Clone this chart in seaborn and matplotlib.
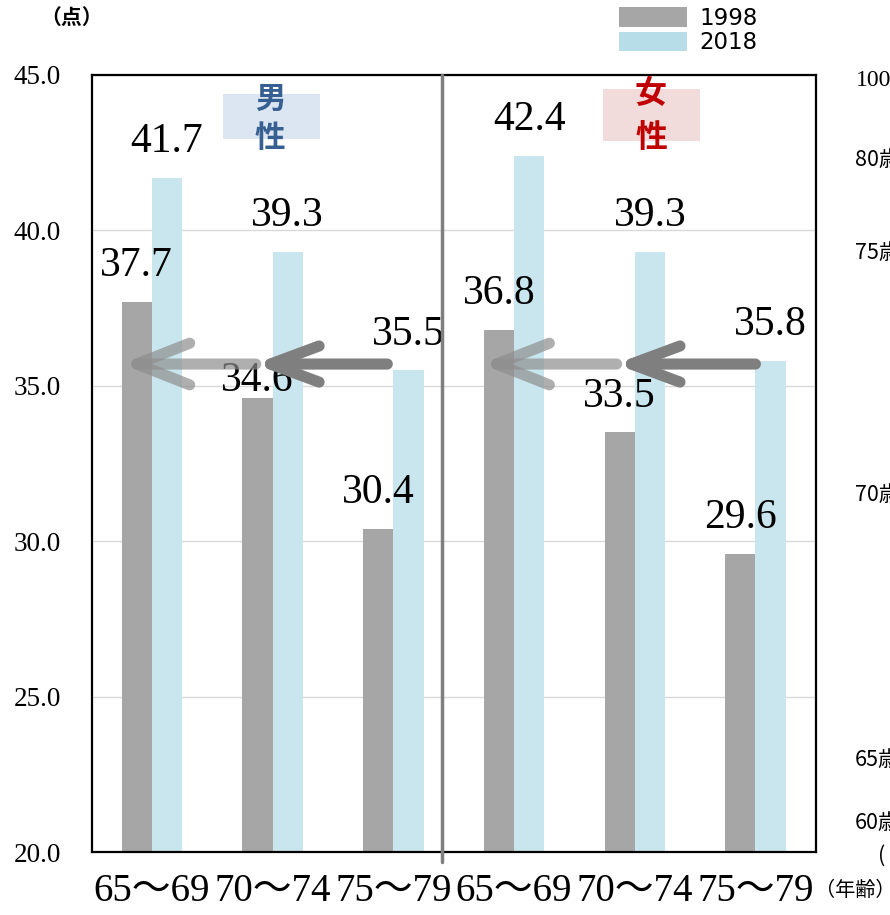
import matplotlib
matplotlib.use("Agg")
import matplotlib.pyplot as plt
import seaborn as sns
import pandas as pd
from matplotlib.patches import Rectangle, ArrowStyle

# data
ages = ["65〜69", "70〜74", "75〜79"]
sexes = ["男性", "女性"]
years = ["1998", "2018"]
score_1998 = [37.7, 34.6, 30.4, 36.8, 33.5, 29.6]
score_2018 = [41.7, 39.3, 35.5, 42.4, 39.3, 35.8]
yticks = [20, 25, 30, 35, 40, 45]

groups = [s + a for s in sexes for a in ages]
rows = []
for g, v1, v2 in zip(groups, score_1998, score_2018):
    rows.append({"group": g, "year": years[0], "score": v1})
    rows.append({"group": g, "year": years[1], "score": v2})
df = pd.DataFrame(rows)

sns.set_theme(style="white")
plt.rcParams["font.family"] = ["Liberation Serif", "Noto Sans CJK JP"]
plt.rcParams["text.color"] = "black"
plt.rcParams["xtick.color"] = "black"
plt.rcParams["ytick.color"] = "black"
plt.rcParams["xtick.labelcolor"] = "black"
plt.rcParams["ytick.labelcolor"] = "black"
SANS = ["DejaVu Sans", "Noto Sans CJK JP"]
CJK = ["Noto Sans CJK JP", "DejaVu Sans"]

W, H = 890, 915
fig = plt.figure(figsize=(W / 100, H / 100), dpi=100)
ax = fig.add_axes([91.6 / W, 1 - 852 / H, 724.2 / W, 777 / H])


def px(x, y):
    return (x / W, 1 - y / H)


sns.barplot(data=df, x="group", y="score", hue="year", order=groups,
            palette={"1998": "#A6A6A6", "2018": "#C9E6EE"},
            width=0.5, saturation=1, edgecolor="none", linewidth=0, ax=ax)

ax.set_xlim(-0.5, 5.5)
ax.set_ylim(20, 45)
ax.set_yticks(yticks)
ax.set_yticklabels([f"{v:.1f}" for v in yticks], fontsize=19.5)
ax.set_xticks(range(len(groups)))
ax.set_xticklabels(ages * 2, fontsize=28)
ax.tick_params(axis="y", length=0, pad=22, labelcolor="black")
ax.tick_params(axis="x", length=0, pad=15, labelcolor="black")
ax.set_xlabel("")
ax.set_ylabel("")
ax.yaxis.grid(True, color="#D9D9D9", lw=1)
ax.set_axisbelow(True)
for sp in ax.spines.values():
    sp.set_visible(True)
    sp.set_color("black")
    sp.set_linewidth(1.6)

# value labels
for cont in ax.containers:
    txts = ax.bar_label(cont, fmt="%.1f", padding=12, fontsize=30, color="black")
    for t in txts:
        if t.get_text() == "34.6":
            t.xyann = (0, -1)

# divider between men and women
ax.axvline(2.4, ymin=-0.013, ymax=1, color="#7F7F7F", lw=2.5, clip_on=False, zorder=4)

# arrows
def arrow(x0, x1, y, color, alpha, hl, hw):
    ax.annotate("", xy=(x1, y), xytext=(x0, y),
                arrowprops=dict(arrowstyle=ArrowStyle("->", head_length=hl, head_width=hw),
                                mutation_scale=10, lw=8, color=color, alpha=alpha,
                                capstyle="round", joinstyle="round",
                                shrinkA=0, shrinkB=0), zorder=5)

arrow(0.86, -0.25, 35.7, "#8E8E8E", 0.7, 3.8, 1.5)
arrow(1.95, 0.85, 35.7, "#7F7F7F", 1.0, 3.5, 1.3)
arrow(3.85, 2.73, 35.7, "#8E8E8E", 0.7, 3.8, 1.5)
arrow(5.00, 3.84, 35.7, "#7F7F7F", 1.0, 3.5, 1.3)

# sex labels
ax.add_patch(Rectangle(px(223, 139), 97 / W, 45 / H, transform=fig.transFigure,
                       facecolor="#DCE6F2", edgecolor="none", zorder=3))
ax.add_patch(Rectangle(px(603, 141), 97 / W, 52 / H, transform=fig.transFigure,
                       facecolor="#F2DCDB", edgecolor="none", zorder=3))
fig.text(*px(270, 99), "男", ha="center", va="center", fontsize=22, fontweight="bold",
         color="#376092", family=CJK, zorder=6)
fig.text(*px(270, 138), "性", ha="center", va="center", fontsize=22, fontweight="bold",
         color="#376092", family=CJK, zorder=6)
fig.text(*px(651, 94), "女", ha="center", va="center", fontsize=23, fontweight="bold",
         color="#C00000", family=CJK, zorder=6)
fig.text(*px(651, 138), "性", ha="center", va="center", fontsize=23, fontweight="bold",
         color="#C00000", family=CJK, zorder=6)

# unit labels
fig.text(*px(72, 17), "（点）", ha="center", va="center", fontsize=15, fontweight="bold",
         family=CJK)
fig.text(*px(815, 891), "（年齢）", ha="left", va="center", fontsize=14.5, family=CJK)

# cut-off labels on the right edge
fig.text(*px(856, 80), "100", ha="left", va="center", fontsize=17)
for lab, y in [("80歳", 160), ("75歳", 253), ("70歳", 495), ("65歳", 760), ("60歳", 823)]:
    fig.text(*px(855, y), lab, ha="left", va="center", fontsize=15.5, family=CJK)
fig.text(*px(878, 856), "(", ha="left", va="center", fontsize=15.5, family=CJK)

# legend
sns.move_legend(ax, "upper left", bbox_to_anchor=px(619, 7), bbox_transform=fig.transFigure,
                frameon=False, title=None, handlelength=2.97,
                handleheight=0.92, labelspacing=0.05, handletextpad=0.55,
                borderpad=0, borderaxespad=0, prop={"family": SANS, "size": 16.5})
leg = ax.get_legend()
leg.legend_handles[1].set_facecolor("#B7DDE8")
for t in leg.get_texts():
    t.set_color("black")

fig.savefig("out.png", dpi=100)
